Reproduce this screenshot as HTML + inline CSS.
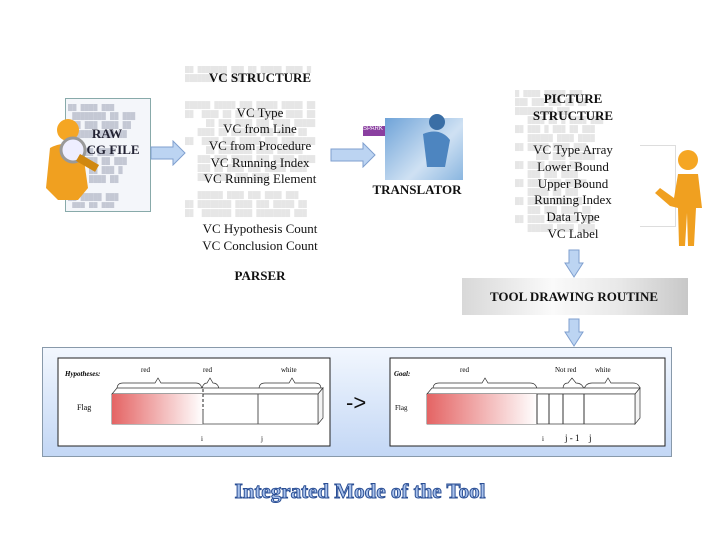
<!DOCTYPE html>
<html><head><style>
body{margin:0;width:720px;height:540px;background:#fff;position:relative;overflow:hidden;font-family:"Liberation Serif",serif}
.a{position:absolute}
.t{position:absolute;white-space:nowrap;transform:translateX(-50%);font-size:13px;color:#111;line-height:14px}
.code{position:absolute;color:#e6e6e6;font-family:"Liberation Mono",monospace;font-size:7px;line-height:9px;overflow:hidden;white-space:pre}
</style></head><body>
<!-- raw doc -->
<div class="a" style="left:65px;top:98px;width:84px;height:112px;background:#f4f6fa;border:1px solid #8aa;"></div>
<div class="code" style="left:68px;top:104px;width:80px;height:104px;color:#c4c8d4">██ ████ ███
 ████████ ██ ███
 ██ ███ ████ ██
██████ ████ ██

██ ███ ████
 ██████ ██ ███
████ ██ ███ █
 ███ ████ ██

██ █████ ███
 ███ ██ ███</div>
<svg class="a" style="left:38px;top:118px" width="70" height="90"><ellipse cx="30" cy="12" rx="11" ry="11" fill="#f5a623"/><path d="M12 30 Q30 20 45 35 L50 70 L40 82 L20 82 L8 70 Z" fill="#f0a020"/><circle cx="35" cy="32" r="12" fill="#eef" stroke="#999" stroke-width="3"/><rect x="42" y="36" width="22" height="8" fill="#d08810" transform="rotate(30 42 36)"/></svg>
<div class="t" style="left:107px;top:127px;font-weight:bold;color:#223">RAW</div>
<div class="t" style="left:113px;top:143px;font-weight:bold;color:#223">CG FILE</div>
<!-- arrows -->
<svg class="a" style="left:150px;top:140px" width="36" height="26"><path d="M1 7 H23 V1 L35 13 L23 25 V19 H1 Z" fill="#bcd4f2" stroke="#7f9fcf"/></svg>
<svg class="a" style="left:330px;top:142px" width="46" height="26"><path d="M1 7 H33 V1 L45 13 L33 25 V19 H1 Z" fill="#bcd4f2" stroke="#7f9fcf"/></svg>
<!-- VC structure -->
<div class="code" style="left:185px;top:66px;width:150px;height:195px">██ ███████ ███ ██ █████ ████ █
███████ ██ ███ ██


██████ █████ ███ █████ █████ ██
██  ████ ██ ██ ████████ ████ ██
     ██ ███ ████ ███ ████ █████
   ████ ██ ██████ ███ ████ ██
██  ████ ███ █████ ███ ████████
     ██ ████████ ████ ██████
   ███ ███ █████ ███ █████ ████
   ███ ██ ████ ███ █████ ████
   ███ ████ ███ ████

   ██████ ████ ███ ████ ███
██ ████████ ████ ███ █████ ██
██  ███████ ████ ████████ ███</div>
<div class="t" style="left:260px;top:71px;font-weight:bold">VC STRUCTURE</div>
<div class="t" style="left:260px;top:106px">VC Type</div>
<div class="t" style="left:260px;top:122px">VC  from Line</div>
<div class="t" style="left:260px;top:139px">VC  from Procedure</div>
<div class="t" style="left:260px;top:156px">VC Running Index</div>
<div class="t" style="left:260px;top:172px">VC Running Element</div>
<div class="t" style="left:260px;top:222px">VC Hypothesis Count</div>
<div class="t" style="left:260px;top:239px">VC Conclusion Count</div>
<div class="t" style="left:260px;top:269px;font-weight:bold">PARSER</div>
<!-- translator -->
<div class="a" style="left:385px;top:118px;width:78px;height:62px;background:linear-gradient(135deg,#6fa3d8,#cfe1f3 60%,#8ab6e0)"></div>
<div class="a" style="left:363px;top:126px;width:22px;height:10px;background:#8a3fa0;color:#fff;font-size:6px;font-family:'Liberation Sans',sans-serif">SPARK</div>
<svg class="a" style="left:405px;top:112px" width="50" height="60"><circle cx="32" cy="10" r="8" fill="#3a6ea5"/><path d="M18 22 Q35 15 45 28 L40 55 L22 55 Z" fill="#4d85c0"/></svg>
<div class="t" style="left:417px;top:183px;font-weight:bold">TRANSLATOR</div>
<!-- picture structure -->
<div class="code" style="left:515px;top:90px;width:115px;height:160px">█ ████ █████ ███
███ ███ ███ ██ ██
█████████ ███
   ████ ██ █ ████ ███
██ ███ █ ███ ██ ███
   ██████ ████ ████
██ █████ ████ ███
     ███ ███ ██████
██ ████ ████ ███
   ███ ███ ████
██ ████ ███ █████
   █████ ██ ███
██ █████ ████ ██
   ███ ███ ████ ██
██ ████ ███ ███ ███
   ██████ ████ ████</div>
<div class="a" style="left:640px;top:145px;width:35px;height:80px;border:1px solid #ddd;border-left:none"></div>
<div class="t" style="left:573px;top:92px;font-weight:bold">PICTURE</div>
<div class="t" style="left:573px;top:109px;font-weight:bold">STRUCTURE</div>
<div class="t" style="left:573px;top:143px">VC Type Array</div>
<div class="t" style="left:573px;top:160px">Lower Bound</div>
<div class="t" style="left:573px;top:177px">Upper Bound</div>
<div class="t" style="left:573px;top:193px">Running Index</div>
<div class="t" style="left:573px;top:210px">Data Type</div>
<div class="t" style="left:573px;top:227px">VC Label</div>
<svg class="a" style="left:650px;top:148px" width="60" height="102"><circle cx="38" cy="12" r="10" fill="#f5a623"/><path d="M28 26 L48 26 L52 60 L46 60 L44 98 L38 98 L37 65 L35 98 L29 98 L28 60 L20 58 L5 45 L10 40 L24 50 Z" fill="#f0a020"/></svg>
<!-- down arrows -->
<svg class="a" style="left:564px;top:249px" width="20" height="30"><path d="M5 1 H15 V14 H19 L10 28 L1 14 H5 Z" fill="#bcd4f2" stroke="#7f9fcf"/></svg>
<div class="a" style="left:462px;top:278px;width:226px;height:37px;background:linear-gradient(90deg,#d8d8d8,#fafafa 40%,#e8e8e8 70%,#c8c8c8)"></div>
<div class="t" style="left:574px;top:290px;font-weight:bold">TOOL DRAWING ROUTINE</div>
<svg class="a" style="left:564px;top:318px" width="20" height="30"><path d="M5 1 H15 V14 H19 L10 28 L1 14 H5 Z" fill="#bcd4f2" stroke="#7f9fcf"/></svg>
<!-- bottom panel -->
<div class="a" style="left:42px;top:347px;width:628px;height:108px;border:1px solid #8899aa;background:linear-gradient(#f2f7fe,#c3d7f5)"></div>
<svg class="a" style="left:0;top:0" width="720" height="540" font-family="Liberation Serif" font-size="7">
<defs><linearGradient id="g" x1="0" x2="1"><stop offset="0" stop-color="#e46464"/><stop offset="1" stop-color="#fff"/></linearGradient></defs>
<rect x="58" y="358" width="272" height="88" fill="#fff" stroke="#222"/>
<text x="65" y="376" font-style="italic" font-weight="bold">Hypotheses:</text>
<text x="141" y="372">red</text><text x="203" y="372">red</text><text x="281" y="372">white</text>
<path d="M117 389 Q117 383 123 383 H155 L158 378 L161 383 H196 Q201 383 202 389 M202 389 Q203 383 207 383 L210 378 L213 383 Q218 383 219 389 M259 389 Q259 383 265 383 H289 L292 378 L295 383 H315 Q321 383 321 389" fill="none" stroke="#333" stroke-width=".7"/>
<path d="M112 394 L117 388 H323 L318 394 Z" fill="#fff" stroke="#333" stroke-width=".7"/>
<path d="M318 394 L323 388 V418 L318 424 Z" fill="#f4f4f4" stroke="#333" stroke-width=".7"/>
<rect x="112" y="394" width="206" height="30" fill="#fff" stroke="#333" stroke-width=".7"/>
<rect x="112" y="394" width="91" height="30" fill="url(#g)"/>
<line x1="203" y1="389" x2="203" y2="410" stroke="#222" stroke-dasharray="3,2"/>
<line x1="203" y1="410" x2="203" y2="424" stroke="#555"/>
<line x1="258" y1="394" x2="258" y2="424" stroke="#555"/>
<text x="77" y="410" font-size="8">Flag</text>
<text x="201" y="441">i</text><text x="261" y="441">j</text>

<rect x="390" y="358" width="275" height="88" fill="#fff" stroke="#222"/>
<text x="394" y="376" font-style="italic" font-weight="bold">Goal:</text>
<text x="460" y="372">red</text><text x="555" y="372">Not red</text><text x="595" y="372">white</text>
<path d="M433 389 Q433 383 439 383 H482 L485 378 L488 383 H530 Q536 383 537 389 M563 389 Q563 383 568 383 L572 378 L576 383 Q582 383 584 389 M584 389 Q586 383 592 383 H605 L608 378 L611 383 H633 Q639 383 640 389" fill="none" stroke="#333" stroke-width=".7"/>
<path d="M427 394 L432 388 H640 L635 394 Z" fill="#fff" stroke="#333" stroke-width=".7"/>
<path d="M635 394 L640 388 V418 L635 424 Z" fill="#f4f4f4" stroke="#333" stroke-width=".7"/>
<rect x="427" y="394" width="208" height="30" fill="#fff" stroke="#333" stroke-width=".7"/>
<rect x="427" y="394" width="110" height="30" fill="url(#g)"/>
<line x1="537" y1="394" x2="537" y2="424" stroke="#333"/><line x1="549" y1="394" x2="549" y2="424" stroke="#333"/><line x1="563" y1="394" x2="563" y2="424" stroke="#333"/><line x1="584" y1="394" x2="584" y2="424" stroke="#333"/>
<text x="395" y="410">Flag</text>
<text x="542" y="441">i</text><text x="565" y="441" font-size="9">j - 1</text><text x="589" y="441" font-size="9">j</text>
</svg>
<div class="a" style="left:346px;top:390px;font-family:'Liberation Sans',sans-serif;font-size:22px;color:#111">-&gt;</div>
<div class="t" style="left:360px;top:479px;font-size:21px;line-height:24px;font-weight:bold;color:#a9c2ec;-webkit-text-stroke:1px #2b4f95">Integrated Mode of the Tool</div>
</body></html>
